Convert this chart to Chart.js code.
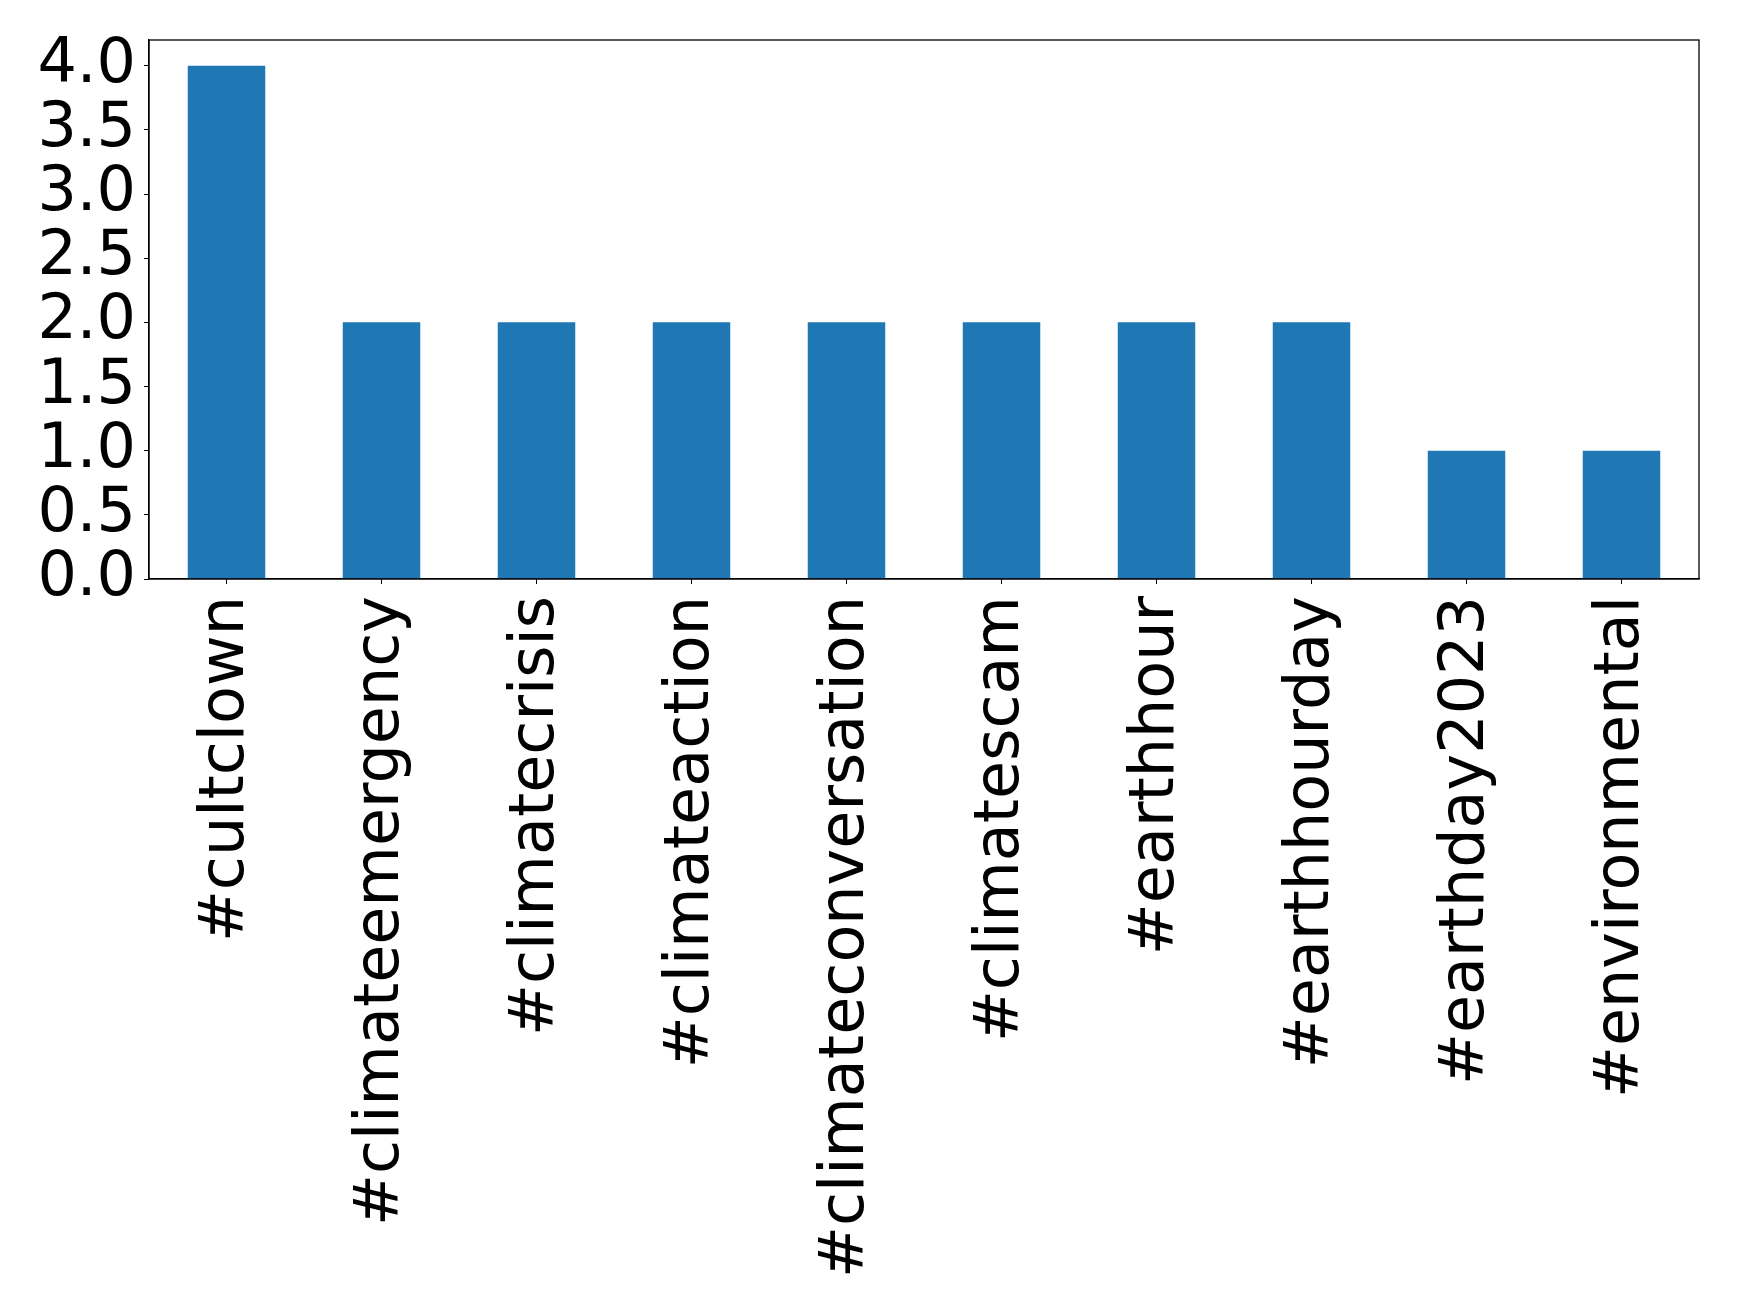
<!DOCTYPE html>
<html>
<head>
<meta charset="utf-8">
<script src="https://cdn.jsdelivr.net/npm/chart.js@4.4.1/dist/chart.umd.min.js"></script>
<style>
  html, body { margin: 0; padding: 0; background: #fff; }
  canvas { display: block; }
</style>
</head>
<body>
<canvas id="hashtagChart" width="1739" height="1316"></canvas>
<script>
// Hashtag counts
const hashtags = ['#cultclown', '#climateemergency', '#climatecrisis', '#climateaction',
    '#climateconversation', '#climatescam', '#earthhour', '#earthhourday',
    '#earthday2023', '#environmental'];
const counts = [4, 2, 2, 2, 2, 2, 2, 2, 1, 1];
const yTicks = [0, 0.5, 1, 1.5, 2, 2.5, 3, 3.5, 4];

const tickFont = { family: 'DejaVu Sans', size: 62 };

// draws the full axes box (top and right spines)
const frameBox = {
    id: 'frameBox',
    afterDraw(chart) {
        const { ctx, chartArea } = chart;
        ctx.save();
        ctx.strokeStyle = '#000';
        ctx.lineWidth = 1.3;
        ctx.strokeRect(chartArea.left, chartArea.top, chartArea.right - chartArea.left, chartArea.bottom - chartArea.top);
        ctx.restore();
    }
};

const ctx = document.getElementById('hashtagChart').getContext('2d');
new Chart(ctx, {
    type: 'bar',
    data: {
        labels: hashtags,
        datasets: [{
            data: counts,
            backgroundColor: '#1f77b4',
            barPercentage: 0.5,
            categoryPercentage: 1.0,
        }]
    },
    options: {
        responsive: false,
        animation: false,
        devicePixelRatio: 1,
        layout: { padding: { top: 40, right: 40, left: 0, bottom: 0 } },
        plugins: {
            legend: { display: false },
            tooltip: { enabled: false }
        },
        scales: {
            x: {
                grid: { offset: false, drawOnChartArea: false, drawTicks: true, tickLength: 5, color: '#000' },
                border: { display: true, color: '#000', width: 1.3 },
                ticks: {
                    font: tickFont,
                    color: '#000',
                    minRotation: 90,
                    maxRotation: 90,
                    autoSkip: false,
                    padding: 12
                },
                afterFit(scale) {
                    scale.height = 737;
                    scale.paddingLeft = 0;
                    scale.paddingRight = 0;
                }
            },
            y: {
                min: 0,
                max: 4.2,
                afterBuildTicks(scale) {
                    scale.ticks = yTicks.map(v => ({ value: v }));
                },
                grid: { drawOnChartArea: false, drawTicks: true, tickLength: 5, color: '#000' },
                border: { display: true, color: '#000', width: 1.3 },
                ticks: {
                    font: tickFont,
                    color: '#000',
                    padding: 8,
                    autoSkip: false,
                    callback: v => Number(v).toFixed(1)
                },
                afterFit(scale) {
                    scale.width = 149;
                    scale.paddingTop = 0;
                    scale.paddingBottom = 0;
                }
            }
        }
    },
    plugins: [frameBox]
});
</script>
</body>
</html>
